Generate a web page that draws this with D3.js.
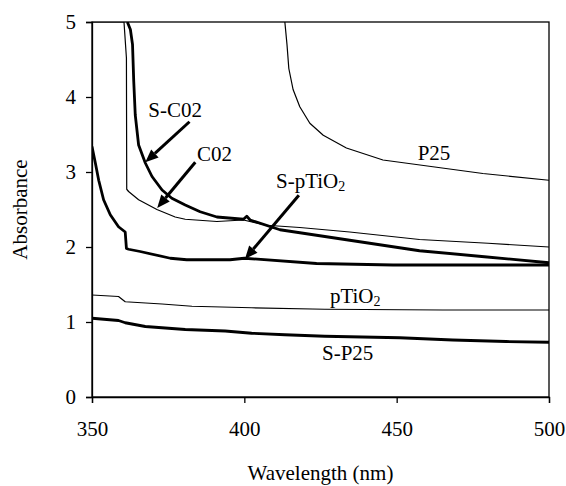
<!DOCTYPE html>
<html>
<head>
<meta charset="utf-8">
<script src="https://cdn.jsdelivr.net/npm/d3@7/dist/d3.min.js"></script>
<style>
  html, body { margin: 0; padding: 0; background: #fff; }
  svg { display: block; }
</style>
</head>
<body>
<svg id="chart" width="566" height="486"></svg>
<script>
// ---- Data ----
const xTicks = [350, 400, 450, 500];
const yTicks = [0, 1, 2, 3, 4, 5];

const wlP25  = [413.3, 414.0, 414.6, 416.0, 418.2, 421.5, 425.9, 433.5, 445.5, 461.9, 478.3, 500];
const absP25 = [5.00, 4.70, 4.38, 4.10, 3.87, 3.65, 3.49, 3.32, 3.16, 3.07, 2.98, 2.89];

const wlSC02  = [361.6, 362.6, 363.3, 363.7, 364.2, 365.3, 367.5, 369.7, 373.0, 376.2, 380.6, 385.5, 391.0, 399.7, 400.8, 401.9, 411.7, 434.6, 457.5, 478.8, 500];
const absSC02 = [5.00, 4.90, 4.70, 4.21, 3.76, 3.36, 3.12, 2.94, 2.76, 2.65, 2.56, 2.47, 2.40, 2.37, 2.41, 2.36, 2.23, 2.09, 1.95, 1.87, 1.79];

const wlC02  = [350, 360.5, 361.3, 361.4, 362.0, 365.3, 371.3, 377.3, 380.6, 391.0, 399.7, 407.3, 418.2, 434.6, 457.5, 480.0, 500];
const absC02 = [5.00, 5.00, 4.52, 2.77, 2.74, 2.63, 2.50, 2.40, 2.37, 2.34, 2.36, 2.29, 2.26, 2.20, 2.10, 2.05, 2.00];

const wlSpTiO2  = [350, 351.1, 352.2, 353.8, 356.0, 358.7, 360.9, 361.3, 362.0, 365.8, 375.7, 381.1, 385.5, 395.3, 400.0, 423.7, 448.8, 500];
const absSpTiO2 = [3.34, 3.12, 2.89, 2.63, 2.43, 2.27, 2.20, 1.98, 1.97, 1.94, 1.85, 1.83, 1.83, 1.83, 1.85, 1.78, 1.76, 1.76];

const wlpTiO2  = [350, 358.7, 360.9, 373.0, 382.8, 402.4, 426.4, 465.2, 500];
const abspTiO2 = [1.36, 1.34, 1.27, 1.24, 1.21, 1.19, 1.17, 1.16, 1.16];

const wlSP25  = [350, 358.7, 360.9, 367.5, 380.6, 393.7, 402.4, 413.3, 426.4, 451.0, 468.4, 485.9, 500];
const absSP25 = [1.05, 1.02, 0.99, 0.94, 0.90, 0.88, 0.85, 0.83, 0.81, 0.79, 0.76, 0.74, 0.73];

const seriesNames = ["P25", "S-C02", "C02", "S-pTiO2", "pTiO2", "S-P25"];
const seriesWl    = [wlP25, wlSC02, wlC02, wlSpTiO2, wlpTiO2, wlSP25];
const seriesAbs   = [absP25, absSC02, absC02, absSpTiO2, abspTiO2, absSP25];
const seriesThick = [false, true, false, true, false, true];

// annotation labels (anchor in data units: wavelength, absorbance)
const labelText = [["S-C02", ""], ["C02", ""], ["P25", ""], ["S-pTiO", "2"], ["pTiO", "2"], ["S-P25", ""]];
const labelWl   = [368.5, 384.5, 456.9, 410.4, 428.1, 425.5];
const labelAbs  = [3.73, 3.15, 3.16, 2.79, 1.25, 0.49];

// arrows: from (wl, abs) to tip (wl, abs)
const arrowFromWl  = [382.0, 383.9, 417.9];
const arrowFromAbs = [3.67, 3.13, 2.69];
const arrowToWl    = [367.5, 371.4, 400.2];
const arrowToAbs   = [3.13, 2.52, 1.84];

// ---- Layout ----
const FONT = '"Liberation Serif", "Times New Roman", serif';
const svg = d3.select("#chart");
const m = { left: 92, top: 22, right: 566 - 549, bottom: 486 - 397 };
const W = 566 - m.left - m.right;
const H = 486 - m.top - m.bottom;

const x = d3.scaleLinear().domain([350, 500]).range([m.left, m.left + W]);
const y = d3.scaleLinear().domain([0, 5]).range([m.top + H, m.top]);

svg.append("defs").append("clipPath").attr("id", "clip")
  .append("rect").attr("x", m.left).attr("y", m.top).attr("width", W).attr("height", H);

svg.append("rect").attr("x", m.left).attr("y", m.top).attr("width", W).attr("height", H)
  .attr("fill", "none").attr("stroke", "#000").attr("stroke-width", 1.3);

const fs = 21;
const xAxis = svg.append("g").attr("transform", `translate(0,${m.top + H})`)
  .call(d3.axisBottom(x).tickValues(xTicks).tickFormat(d3.format("d")).tickSize(6).tickPadding(18));
const yAxis = svg.append("g").attr("transform", `translate(${m.left},0)`)
  .call(d3.axisLeft(y).tickValues(yTicks).tickFormat(d3.format("d")).tickSize(6).tickPadding(10));
[xAxis, yAxis].forEach(g => {
  g.attr("font-family", FONT).attr("font-size", fs);
  g.select(".domain").attr("stroke", "#000").attr("stroke-width", 1.3);
  g.selectAll(".tick line").attr("stroke", "#000").attr("stroke-width", 1.3);
  g.selectAll(".tick text").attr("fill", "#000");
});

const line = d3.line().x(d => x(d[0])).y(d => y(d[1]));
const plot = svg.append("g").attr("clip-path", "url(#clip)");
seriesNames.forEach((name, i) => {
  const pts = seriesWl[i].map((w, j) => [w, seriesAbs[i][j]]);
  plot.append("path").datum(pts)
    .attr("d", line)
    .attr("fill", "none")
    .attr("stroke", "#000")
    .attr("stroke-width", seriesThick[i] ? 2.8 : 1.2)
    .attr("stroke-linejoin", "round");
});

arrowFromWl.forEach((fw, i) => {
  const x1 = x(fw), y1 = y(arrowFromAbs[i]);
  const x2 = x(arrowToWl[i]), y2 = y(arrowToAbs[i]);
  const ang = Math.atan2(y2 - y1, x2 - x1);
  const hl = 13, hw = 5.5;
  const bx = x2 - hl * Math.cos(ang), by = y2 - hl * Math.sin(ang);
  svg.append("line").attr("x1", x1).attr("y1", y1).attr("x2", bx).attr("y2", by)
    .attr("stroke", "#000").attr("stroke-width", 3);
  const px = -Math.sin(ang), py = Math.cos(ang);
  svg.append("path")
    .attr("d", `M${x2},${y2}L${bx + px * hw},${by + py * hw}L${bx - px * hw},${by - py * hw}Z`)
    .attr("fill", "#000");
});

labelText.forEach((t, i) => {
  const tx = svg.append("text").attr("x", x(labelWl[i])).attr("y", y(labelAbs[i]))
    .attr("font-size", fs).attr("font-family", FONT);
  tx.append("tspan").text(t[0]);
  if (t[1]) tx.append("tspan").attr("font-size", Math.round(fs * 0.68)).attr("dy", 3).text(t[1]);
});

svg.append("text").attr("x", m.left + W / 2).attr("y", 480)
  .attr("text-anchor", "middle").attr("font-size", fs).attr("font-family", FONT)
  .text("Wavelength (nm)");
svg.append("text").attr("transform", `translate(27,${m.top + H / 2}) rotate(-90)`)
  .attr("text-anchor", "middle").attr("font-size", fs).attr("font-family", FONT)
  .text("Absorbance");
</script>
</body>
</html>
